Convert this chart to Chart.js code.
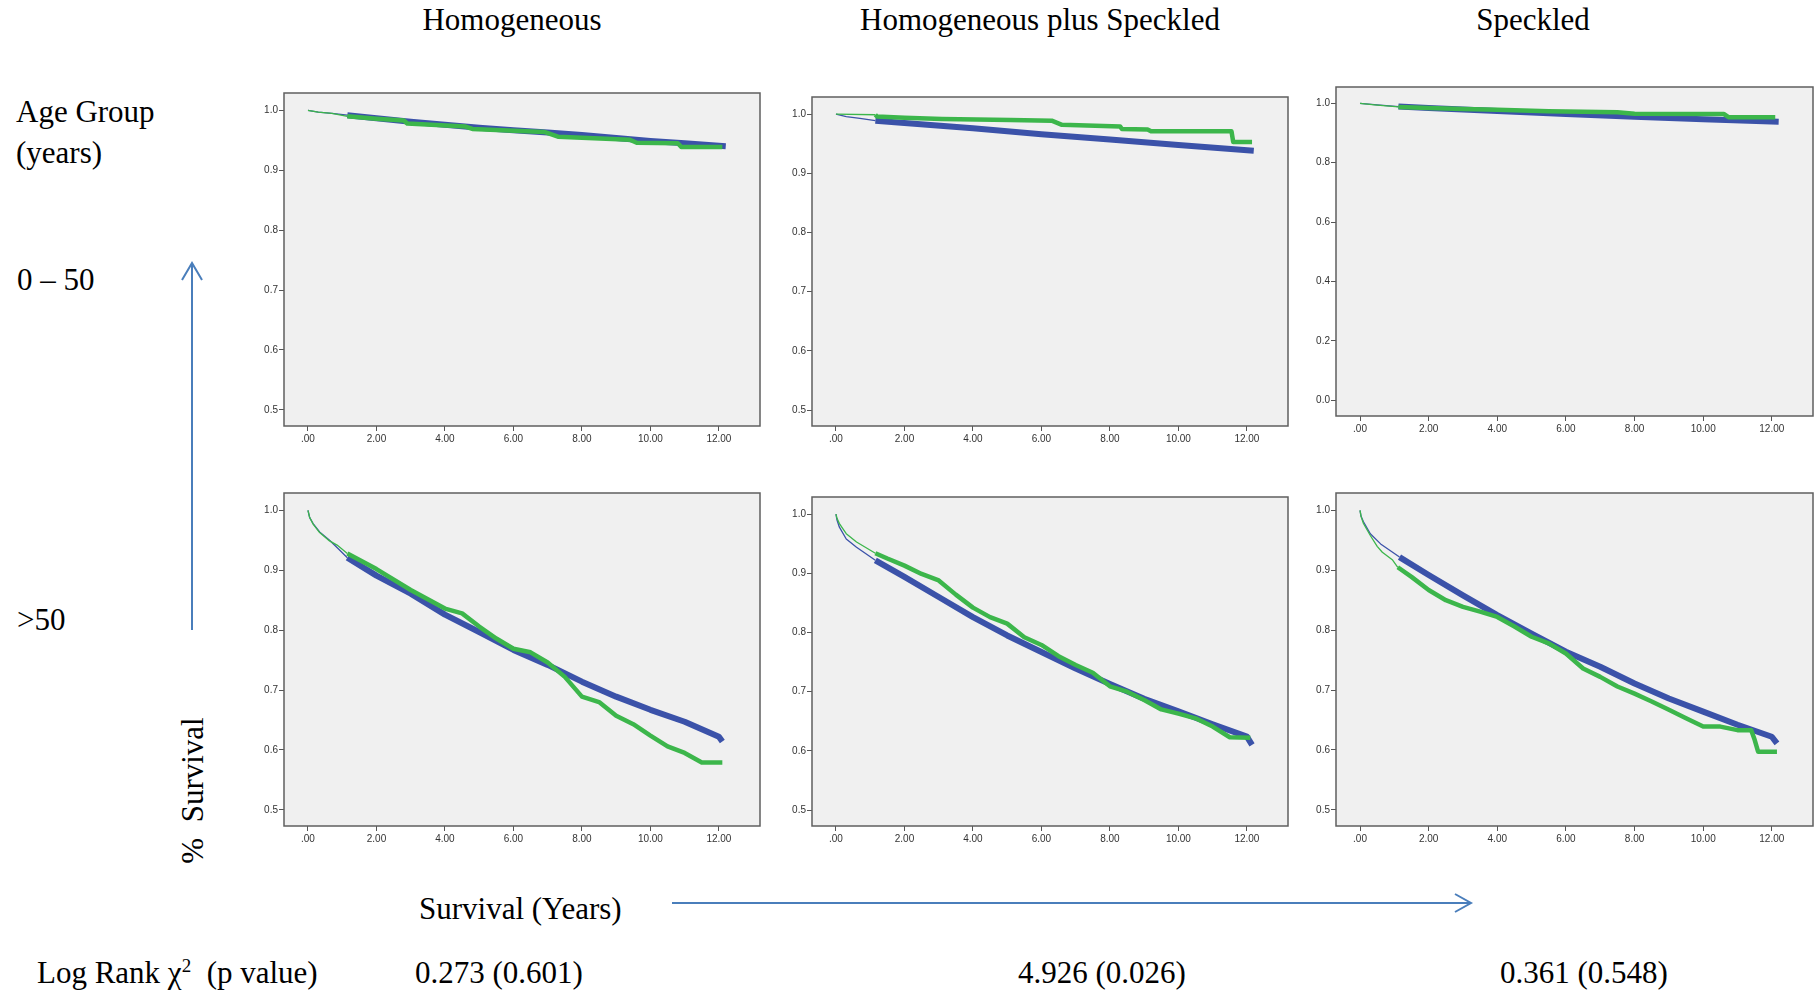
<!DOCTYPE html>
<html>
<head>
<meta charset="utf-8">
<script src="https://cdn.jsdelivr.net/npm/chart.js@4.4.0/dist/chart.umd.min.js"></script>
<style>
  body { margin: 0; width: 1820px; height: 994px; background: #fff; position: relative; overflow: hidden; font-family: "Liberation Serif", serif; }
  .lbl { position: absolute; font-size: 31px; line-height: 31px; color: #000; white-space: pre; }
  .ctr { text-align: center; width: 600px; }
  .panel { position: absolute; }
  svg { position: absolute; left: 0; top: 0; }
</style>
</head>
<body>

<div class="lbl ctr" style="left:212px; top:4px;">Homogeneous</div>
<div class="lbl ctr" style="left:740px; top:4px;">Homogeneous plus Speckled</div>
<div class="lbl ctr" style="left:1233px; top:4px;">Speckled</div>

<div class="lbl" style="left:16px; top:96px;">Age Group</div>
<div class="lbl" style="left:16px; top:137px;">(years)</div>
<div class="lbl" style="left:17px; top:264px;">0 – 50</div>
<div class="lbl" style="left:17px; top:604px;">&gt;50</div>
<div class="lbl ctr" style="left:-108px; top:775px; width:600px; transform:rotate(-90deg);">%  Survival</div>

<div class="lbl" style="left:419px; top:893px;">Survival (Years)</div>
<div class="lbl" style="left:37px; top:957px;">Log Rank χ<span style="font-size:19px; position:relative; top:-11px;">2</span>  (p value)</div>
<div class="lbl" style="left:415px; top:957px;">0.273 (0.601)</div>
<div class="lbl" style="left:1018px; top:957px;">4.926 (0.026)</div>
<div class="lbl" style="left:1500px; top:957px;">0.361 (0.548)</div>

<svg width="1820" height="994">
  <g stroke="#4a7ebb" stroke-width="2" fill="none">
    <line x1="192" y1="630" x2="192" y2="263"/>
    <polyline points="182,280 192,263 202,280"/>
    <line x1="672" y1="903" x2="1471" y2="903"/>
    <polyline points="1455,894 1471,903 1455,912"/>
  </g>
</svg>

<script>
// tick labels
const xTicks = [0, 2, 4, 6, 8, 10, 12];
const yTicksHalf = [0.5, 0.6, 0.7, 0.8, 0.9, 1.0];
const yTicksFull = [0, 0.2, 0.4, 0.6, 0.8, 1.0];

// survival curves, [years, survival]
// age 0-50
const homYoungBlue = [[0,1],[0.3,0.997],[0.7,0.995],[1.15,0.992],[2,0.987],[3,0.981],[4,0.976],[5,0.971],[6,0.967],[7,0.963],[8,0.959],[9,0.954],[10,0.949],[11,0.945],[12.2,0.940]];
const homYoungGreen = [[0,1],[0.3,0.997],[0.7,0.995],[1.15,0.990],[2,0.986],[2.8,0.983],[2.9,0.978],[4.6,0.973],[4.8,0.969],[6.9,0.964],[7.3,0.956],[9.4,0.951],[9.6,0.946],[10.8,0.945],[10.9,0.939],[12.1,0.939]];

const mixYoungBlue = [[0,1],[0.3,0.996],[0.7,0.993],[1.15,0.989],[2,0.985],[4,0.976],[6,0.966],[8,0.957],[10,0.948],[12.2,0.938]];
const mixYoungGreen = [[0,1],[1.15,0.999],[1.2,0.996],[2,0.994],[3.1,0.992],[5.1,0.990],[6.3,0.989],[6.6,0.982],[8.3,0.979],[8.35,0.975],[9.1,0.974],[9.2,0.971],[11.55,0.971],[11.6,0.953],[12.15,0.953]];

const speYoungBlue = [[0,1],[0.5,0.995],[1.12,0.989],[2,0.984],[4,0.974],[6,0.964],[8,0.955],[10,0.946],[12.2,0.938]];
const speYoungGreen = [[0,1],[0.5,0.994],[1.12,0.988],[2,0.984],[3,0.981],[4,0.978],[5.5,0.973],[7.5,0.970],[8,0.965],[10.6,0.964],[10.75,0.953],[12.1,0.953]];

// age > 50
const homOldBlue = [[0,1],[0.05,0.988],[0.15,0.978],[0.34,0.964],[0.63,0.95],[0.9,0.935],[1.15,0.921],[2,0.891],[3,0.861],[4,0.826],[5,0.797],[6,0.767],[7,0.742],[8,0.714],[9,0.689],[10,0.667],[11,0.647],[12,0.622],[12.1,0.614]];
const homOldGreen = [[0,1],[0.05,0.988],[0.15,0.977],[0.34,0.963],[0.63,0.949],[0.85,0.942],[1.0,0.935],[1.15,0.928],[2,0.902],[3,0.867],[4,0.836],[4.5,0.828],[5,0.806],[5.5,0.786],[6,0.769],[6.5,0.763],[7,0.746],[7.5,0.722],[8,0.689],[8.5,0.680],[9,0.657],[9.5,0.643],[10,0.624],[10.5,0.606],[11,0.595],[11.5,0.579],[12.1,0.579]];

const mixOldBlue = [[0,1],[0.03,0.99],[0.1,0.978],[0.3,0.958],[0.6,0.944],[1.15,0.922],[2,0.894],[3,0.860],[4,0.826],[5,0.795],[6,0.767],[7,0.739],[8,0.713],[9,0.688],[10,0.667],[11,0.645],[12,0.624],[12.15,0.610]];
const mixOldGreen = [[0,1],[0.03,0.993],[0.1,0.984],[0.3,0.967],[0.6,0.953],[1.15,0.934],[1.5,0.925],[2,0.913],[2.5,0.899],[3,0.888],[3.5,0.864],[4,0.842],[4.5,0.826],[5,0.815],[5.5,0.792],[6,0.779],[6.5,0.760],[7,0.745],[7.5,0.732],[8,0.709],[8.5,0.700],[9,0.686],[9.5,0.670],[10,0.663],[10.5,0.655],[11,0.641],[11.5,0.623],[12.1,0.622]];

const speOldBlue = [[0,1],[0.03,0.99],[0.1,0.981],[0.3,0.961],[0.6,0.944],[1.15,0.922],[2,0.892],[3,0.858],[4,0.825],[5,0.794],[6,0.764],[7,0.739],[8,0.711],[9,0.686],[10,0.664],[11,0.642],[12,0.622],[12.15,0.611]];
const speOldGreen = [[0,1],[0.03,0.99],[0.1,0.978],[0.3,0.958],[0.5,0.940],[0.65,0.930],[0.95,0.917],[1.1,0.905],[1.5,0.889],[2,0.867],[2.5,0.850],[3,0.839],[3.5,0.831],[4,0.822],[4.5,0.806],[5,0.789],[5.5,0.778],[6,0.761],[6.5,0.736],[7,0.722],[7.5,0.706],[8,0.694],[8.5,0.681],[9,0.667],[9.5,0.653],[10,0.639],[10.5,0.639],[11,0.633],[11.4,0.633],[11.5,0.617],[11.6,0.597],[12.15,0.597]];

const BLUE = "#3b52a9";
const GREEN = "#3cb64b";
const AXIS_W = 40, AXIS_H = 30, PAD_T = 10, PAD_R = 6;

// panel box = chart area position on the page
const panels = [
  { box: [284, 93, 476, 333], yMin: 0.473, yMax: 1.029, yTicks: yTicksHalf, blue: homYoungBlue, green: homYoungGreen },
  { box: [812, 97, 476, 329], yMin: 0.473, yMax: 1.029, yTicks: yTicksHalf, blue: mixYoungBlue, green: mixYoungGreen },
  { box: [1336, 87, 477, 329], yMin: -0.053, yMax: 1.055, yTicks: yTicksFull, blue: speYoungBlue, green: speYoungGreen },
  { box: [284, 493, 476, 333], yMin: 0.473, yMax: 1.029, yTicks: yTicksHalf, blue: homOldBlue, green: homOldGreen },
  { box: [812, 497, 476, 329], yMin: 0.473, yMax: 1.029, yTicks: yTicksHalf, blue: mixOldBlue, green: mixOldGreen },
  { box: [1336, 493, 477, 333], yMin: 0.473, yMax: 1.029, yTicks: yTicksHalf, blue: speOldBlue, green: speOldGreen },
];

// grey plot background + frame
const panelBox = {
  id: "panelBox",
  beforeDraw(chart) {
    const { ctx, chartArea: a } = chart;
    ctx.save();
    ctx.fillStyle = "#f0f0f0";
    ctx.fillRect(a.left, a.top, a.right - a.left, a.bottom - a.top);
    ctx.restore();
  },
  afterDraw(chart) {
    const { ctx, chartArea: a } = chart;
    ctx.save();
    ctx.strokeStyle = "#5f5f5f";
    ctx.lineWidth = 1.5;
    ctx.strokeRect(a.left, a.top, a.right - a.left, a.bottom - a.top);
    ctx.restore();
  }
};

const toPts = arr => arr.map(([x, y]) => ({ x, y }));

panels.forEach(p => {
  const [left, top, w, h] = p.box;
  const wrap = document.createElement("div");
  wrap.className = "panel";
  wrap.style.left = (left - AXIS_W) + "px";
  wrap.style.top = (top - PAD_T) + "px";
  wrap.style.width = (w + AXIS_W + PAD_R) + "px";
  wrap.style.height = (h + PAD_T + AXIS_H) + "px";
  const canvas = document.createElement("canvas");
  wrap.appendChild(canvas);
  document.body.appendChild(wrap);

  const tickFont = { family: "Liberation Sans", size: 10 };

  new Chart(canvas, {
    type: "line",
    data: {
      datasets: [
        {
          data: toPts(p.green),
          borderColor: GREEN,
          segment: { borderWidth: c => (c.p0.parsed.x >= 1.09 ? 4.5 : 1.3) },
        },
        {
          data: toPts(p.blue),
          borderColor: BLUE,
          segment: { borderWidth: c => (c.p0.parsed.x >= 1.09 ? 6 : 1.3) },
        },
      ],
    },
    options: {
      responsive: true,
      maintainAspectRatio: false,
      animation: false,
      layout: { padding: { top: PAD_T, right: PAD_R, left: 0, bottom: 0 } },
      plugins: { legend: { display: false }, tooltip: { enabled: false } },
      elements: { point: { radius: 0 }, line: { tension: 0, borderJoinStyle: "round" } },
      scales: {
        x: {
          type: "linear",
          min: -0.7,
          max: 13.2,
          afterBuildTicks: s => { s.ticks = xTicks.map(v => ({ value: v })); },
          afterFit: s => { s.height = AXIS_H; },
          border: { display: false },
          grid: { drawOnChartArea: false, drawTicks: true, tickLength: 5, color: "#555" },
          ticks: {
            font: tickFont, color: "#333", padding: 2, maxRotation: 0, autoSkip: false,
            callback: v => (v === 0 ? ".00" : v.toFixed(2)),
          },
        },
        y: {
          type: "linear",
          min: p.yMin,
          max: p.yMax,
          afterBuildTicks: s => { s.ticks = p.yTicks.map(v => ({ value: v })); },
          afterFit: s => { s.width = AXIS_W; },
          border: { display: false },
          grid: { drawOnChartArea: false, drawTicks: true, tickLength: 5, color: "#555" },
          ticks: {
            font: tickFont, color: "#333", padding: 1, autoSkip: false,
            callback: v => v.toFixed(1),
          },
        },
      },
    },
    plugins: [panelBox],
  });
});
</script>
</body>
</html>
